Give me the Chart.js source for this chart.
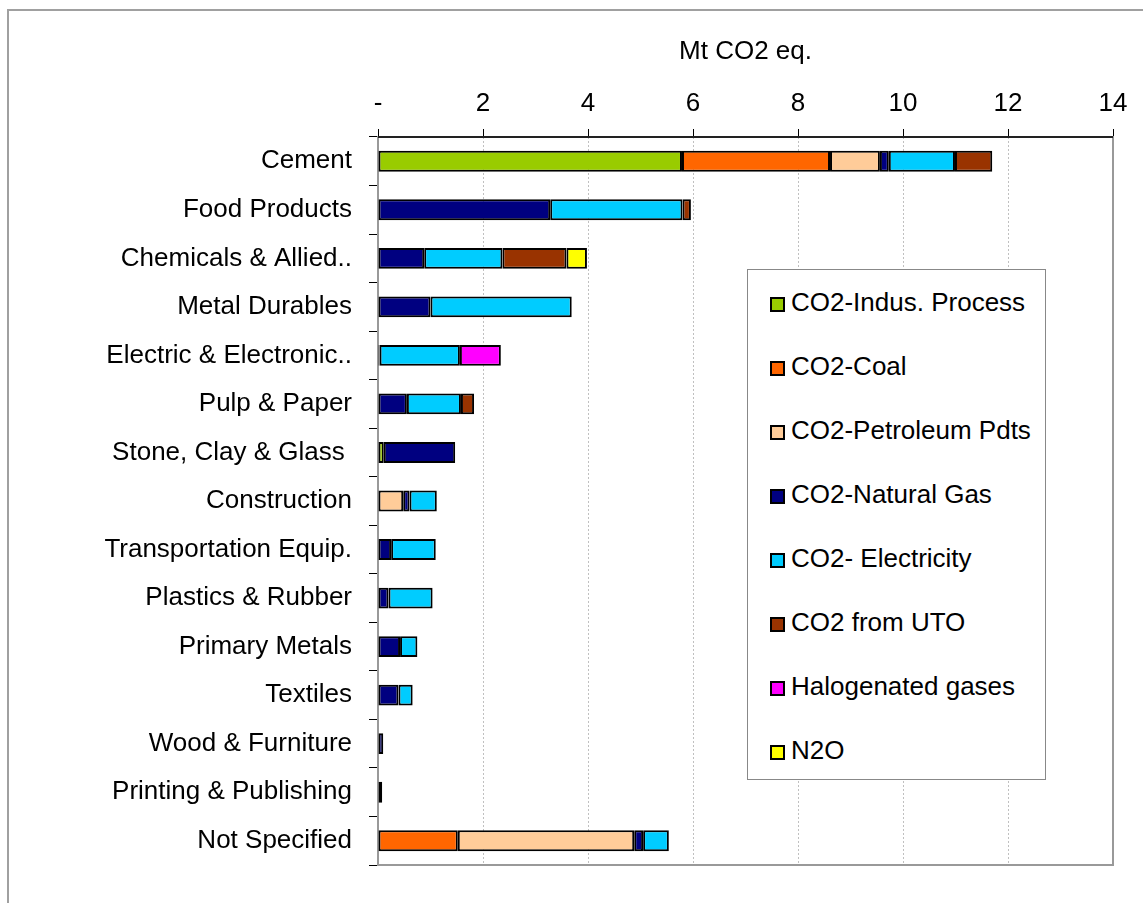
<!DOCTYPE html>
<html>
<head>
<meta charset="utf-8">
<script src="https://cdn.jsdelivr.net/npm/chart.js@4.4.1/dist/chart.umd.min.js"></script>
<style>
  html, body { margin: 0; background: #fff; overflow: hidden; width: 1143px; height: 903px; }
  #frame { position: absolute; left: 7px; top: 9px; width: 1200px; height: 1000px;
           border-top: 2px solid #a0a0a0; border-left: 2px solid #a0a0a0; }
  #myChart { position: absolute; left: 0; top: 0; }
  #legend { position: absolute; left: 747px; top: 269px; width: 299px; height: 511px;
            border: 1px solid #888; background: #fff; box-sizing: border-box;
            font-family: 'Liberation Sans', Arial, sans-serif; font-size: 26px; color: #000; }
  #legend .item { position: absolute; left: 22px; height: 32px; line-height: 32px; white-space: nowrap; }
  #legend .sw { display: inline-block; width: 15px; height: 15px; box-sizing: border-box;
                border: 2px solid #000; margin-right: 6px; vertical-align: -1px; }
</style>
</head>
<body>
<div id="frame"></div>
<canvas id="myChart" width="1143" height="903"></canvas>
<div id="legend"></div>
<script>
// Categorias (sub-sectores)
const sectors = ['Cement', 'Food Products', 'Chemicals & Allied..', 'Metal Durables',
  'Electric & Electronic..', 'Pulp & Paper', 'Stone, Clay & Glass ', 'Construction',
  'Transportation Equip.', 'Plastics & Rubber', 'Primary Metals', 'Textiles',
  'Wood & Furniture', 'Printing & Publishing', 'Not Specified'];

// Valores por fuente (Mt CO2 eq.)
const indusProcess = [5.79, null, null, null, null, null, 0.11, null, null, null, null, null, null, null, null];
const coal         = [2.82, null, null, null, null, null, null, null, null, null, null, null, null, null, 1.52];
const petroleum    = [0.95, null, null, null, null, null, null, 0.48, null, null, null, null, null, null, 3.36];
const naturalGas   = [0.17, 3.28, 0.88, 1.00, 0.03, 0.55, 1.36, 0.12, 0.25, 0.20, 0.42, 0.39, 0.10, 0.08, 0.17];
const electricity  = [1.26, 2.52, 1.49, 2.69, 1.53, 1.03, null, 0.52, 0.85, 0.84, 0.33, 0.27, null, null, 0.49];
const uto          = [0.71, 0.16, 1.22, null, null, 0.25, null, null, null, null, null, null, null, null, null];
const halogenated  = [null, null, null, null, 0.78, null, null, null, null, null, null, null, null, null, null];
const n2o          = [null, null, 0.39, null, null, null, null, null, null, null, null, null, null, null, null];

const xTicks = [0, 2, 4, 6, 8, 10, 12, 14];
const font = { family: "'Liberation Sans', Arial, sans-serif", size: 26 };

const series = [
  { label: 'CO2-Indus. Process', data: indusProcess, color: '#99CC00' },
  { label: 'CO2-Coal', data: coal, color: '#FF6600' },
  { label: 'CO2-Petroleum Pdts', data: petroleum, color: '#FFCC99' },
  { label: 'CO2-Natural Gas', data: naturalGas, color: '#000080' },
  { label: 'CO2- Electricity', data: electricity, color: '#00CCFF' },
  { label: 'CO2 from UTO', data: uto, color: '#993300' },
  { label: 'Halogenated gases', data: halogenated, color: '#FF00FF' },
  { label: 'N2O', data: n2o, color: '#FFFF00' }
];

// Marco del area de la grafica
const framePlugin = {
  id: 'frame',
  beforeDatasetsDraw(chart) {
    const a = chart.chartArea, c = chart.ctx;
    c.save();
    c.strokeStyle = '#999';
    c.lineWidth = 2;
    c.strokeRect(a.left, a.top, a.right - a.left, a.bottom - a.top);
    c.strokeStyle = '#222';
    c.beginPath();
    c.moveTo(a.left, a.top);
    c.lineTo(a.right, a.top);
    c.stroke();
    c.restore();
  }
};

const ctx = document.getElementById('myChart').getContext('2d');
const myChart = new Chart(ctx, {
  type: 'bar',
  data: {
    labels: sectors,
    datasets: series.map(s => ({
      label: s.label,
      data: s.data,
      backgroundColor: s.color,
      borderColor: '#000',
      borderWidth: 2,
      borderSkipped: false,
      categoryPercentage: 1,
      barPercentage: 0.43
    }))
  },
  options: {
    responsive: false,
    animation: false,
    indexAxis: 'y',
    layout: { padding: { left: 0, right: 30, top: 0, bottom: 38 } },
    plugins: { legend: { display: false }, tooltip: { enabled: false } },
    scales: {
      x: {
        position: 'top',
        stacked: true,
        min: 0,
        max: 14,
        afterBuildTicks: scale => { scale.ticks = xTicks.map(v => ({ value: v })); },
        afterFit: scale => { scale.height = 137; },
        title: { display: true, text: 'Mt CO2 eq.', color: '#000', font: font, padding: { top: 36, bottom: 0 } },
        ticks: { color: '#000', font: font, padding: 10, callback: v => v === 0 ? '-' : v },
        grid: { color: '#c0c0c0', tickColor: '#000', tickLength: 8, lineWidth: 1 },
        border: { display: false, dash: [2, 2] }
      },
      y: {
        stacked: true,
        afterFit: scale => { scale.width = 378; },
        ticks: { color: '#000', font: font, padding: 17, autoSkip: false },
        grid: { drawOnChartArea: false, tickColor: '#000', tickLength: 9 },
        border: { display: false }
      }
    }
  },
  plugins: [framePlugin]
});

// Leyenda
const rowCenters = [0, 1, 2, 3, 4, 5, 6, 7].map(i => 32 + i * 64);
document.getElementById('legend').innerHTML = myChart.data.datasets.map((ds, i) =>
  `<div class="item" style="top:${rowCenters[i] - 16}px"><span class="sw" style="background:${ds.backgroundColor}"></span>${ds.label}</div>`
).join('');
</script>
</body>
</html>
